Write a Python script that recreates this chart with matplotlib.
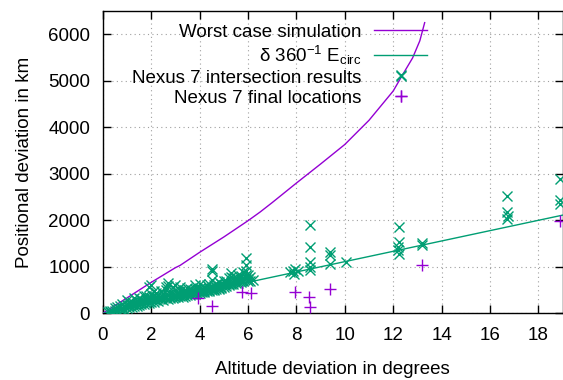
import matplotlib
matplotlib.use("Agg")
import matplotlib.pyplot as plt

plt.rcParams['font.family'] = ['Liberation Sans', 'DejaVu Sans']
plt.rcParams['mathtext.fontset'] = 'custom'
plt.rcParams['mathtext.rm'] = 'Liberation Sans'
plt.rcParams['mathtext.it'] = 'Liberation Sans:italic'

PURPLE = '#9400D3'
GREEN = '#009E73'

# Worst case simulation curve
worst_x = [0, 1, 2, 3, 3.2, 4, 5, 6, 6.5, 7, 8, 9, 10, 11, 12, 12.4, 12.8, 13.1, 13.3]
worst_y = [0, 330, 664, 980, 1031, 1310, 1640, 1990, 2177, 2380, 2800, 3210, 3630, 4150, 4780, 5140, 5490, 5860, 6250]

# delta / 360 * E_circ line
ecirc_km = 40000.0
line_x = [0, 19]

# Nexus 7 intersection results (dense cluster, then discrete groups)
inter_x = [0.2, 0.3, 0.3, 0.4, 0.5, 0.5, 0.6, 0.6, 0.7, 0.7,
           0.8, 0.8, 0.8, 0.9, 0.9, 1.0, 1.0, 1.0, 1.1, 1.1, 1.1,
           1.2, 1.2, 1.2, 1.3, 1.3, 1.3, 1.4, 1.4, 1.4, 1.5, 1.5, 1.5,
           1.6, 1.6, 1.6, 1.7, 1.7, 1.7, 1.8, 1.8, 1.8, 1.9, 1.9, 1.9, 1.9,
           2.0, 2.0, 2.0, 2.0, 2.1, 2.1, 2.1, 2.1, 2.2, 2.2, 2.2, 2.3, 2.3, 2.3,
           2.4, 2.4, 2.4, 2.5, 2.5, 2.5, 2.6, 2.6, 2.6, 2.6, 2.7, 2.7, 2.7, 2.7,
           2.8, 2.8, 2.8, 2.9, 2.9, 2.9, 3.0, 3.0, 3.0, 3.0, 3.1, 3.1, 3.1,
           3.2, 3.2, 3.2, 3.2, 3.3, 3.3, 3.3, 3.4, 3.4, 3.4, 3.5, 3.5, 3.5, 3.5,
           3.6, 3.6, 3.6, 3.7, 3.7, 3.7, 3.8, 3.8, 3.8, 3.8, 3.9, 3.9, 3.9,
           4.0, 4.0, 4.0, 4.0, 4.1, 4.1, 4.1, 4.2, 4.2, 4.2, 4.3, 4.3, 4.3,
           4.4, 4.4, 4.4, 4.4, 4.5, 4.5, 4.5, 4.5, 4.5, 4.6, 4.6, 4.6,
           4.7, 4.7, 4.7, 4.8, 4.8, 4.8, 4.8, 4.9, 4.9, 4.9, 5.0, 5.0, 5.0,
           5.1, 5.1, 5.1, 5.2, 5.2, 5.2, 5.3, 5.3, 5.3, 5.3, 5.4, 5.4, 5.4,
           5.5, 5.5, 5.5, 5.6, 5.6, 5.6, 5.6, 5.7, 5.7, 5.7, 5.8, 5.8, 5.8,
           5.9, 5.9, 5.9, 5.9, 5.9, 6.0, 6.0, 6.0, 6.1, 6.1, 6.2,
           7.75, 7.85, 7.9, 7.95, 8.05,
           8.57, 8.57, 8.55, 8.57, 8.55,
           9.39, 9.39, 9.39, 10.05,
           12.31, 12.24, 12.24, 12.2, 12.18, 12.22,
           13.18, 13.18,
           16.72, 16.72, 16.7, 16.73,
           18.9, 18.9, 18.9]
inter_y = [20, 40, 30, 50, 60, 110, 140, 70, 90, 160,
           110, 80, 200, 150, 100, 120, 290, 180, 170, 130, 240,
           140, 250, 190, 200, 330, 150, 160, 260, 210, 230, 180, 320,
           300, 200, 250, 200, 260, 380, 380, 230, 290, 270, 560, 220, 340,
           250, 420, 610, 320, 300, 480, 250, 380, 280, 350, 440, 320, 400, 270,
           300, 360, 480, 340, 420, 290, 380, 330, 500, 560, 650, 400, 310, 580,
           360, 430, 320, 380, 560, 330, 400, 610, 500, 340, 390, 440, 350,
           420, 480, 370, 560, 400, 450, 360, 430, 500, 380, 440, 480, 390, 550,
           420, 520, 400, 460, 500, 410, 450, 600, 420, 520, 470, 520, 430,
           480, 550, 440, 620, 490, 530, 450, 470, 560, 460, 520, 600, 480,
           510, 540, 490, 640, 960, 720, 550, 500, 910, 530, 600, 510,
           560, 620, 530, 550, 580, 520, 680, 570, 640, 550, 600, 560, 700,
           620, 700, 580, 640, 760, 600, 860, 650, 620, 780, 680, 620, 750,
           700, 760, 650, 690, 740, 660, 820, 720, 800, 680, 700, 880, 760,
           1190, 1040, 760, 900, 820, 740, 820, 690, 700, 780, 720,
           880, 920, 850, 960, 900,
           1907, 1428, 1106, 999, 928,
           1320, 1250, 1050, 1106,
           5128, 1856, 1534, 1427, 1356, 1286,
           1513, 1470,
           2520, 2177, 2035, 2100,
           2893, 2428, 2357]

# Nexus 7 final locations
final_x = [3.95, 4.5, 5.77, 6.13, 7.95, 8.54, 8.57, 9.39, 12.31, 13.18, 18.88]
final_y = [321, 156, 450, 428, 463, 343, 141, 514, 4663, 1035, 1978]

x_ticks = [0, 2, 4, 6, 8, 10, 12, 14, 16, 18]
y_ticks = [0, 1000, 2000, 3000, 4000, 5000, 6000]

fig = plt.figure(figsize=(5.63, 3.80), dpi=100)
ax = fig.add_axes([0.1824, 0.1755, 0.8170, 0.7955])

ax.plot(worst_x, worst_y, color=PURPLE, lw=1.0, label='Worst case simulation', zorder=3)
ax.plot(line_x, [v * ecirc_km / 360.0 for v in line_x], color=GREEN, lw=1.0,
        label=r'δ 360$^{\mathregular{-1}}$ E$_{\mathregular{circ}}$', zorder=3)
ax.plot(inter_x, inter_y, ls='none', marker='x', ms=7.5, mew=1.0, color=GREEN,
        label='Nexus 7 intersection results', zorder=4)
ax.plot(final_x, final_y, ls='none', marker='+', ms=8, mew=1.0, color=PURPLE,
        label='Nexus 7 final locations', zorder=5)

ax.set_xlim(0, 19)
ax.set_ylim(0, 6500)
ax.set_xticks(x_ticks)
ax.set_yticks(y_ticks)
ax.tick_params(direction='in', top=True, right=True, length=6, width=1.0,
               labelsize=13.5)
ax.tick_params(axis='x', pad=10)
ax.tick_params(axis='y', pad=9)
ax.grid(True, color='#a0a0a0', ls=(0, (1, 3)), lw=0.8)
for s in ax.spines.values():
    s.set_linewidth(1.0)

ax.set_xlabel('Altitude deviation in degrees', fontsize=13.5, labelpad=12)
ax.set_ylabel('Positional deviation in km', fontsize=13.5, labelpad=11)

leg = ax.legend(loc='upper right', bbox_to_anchor=(0.705, 0.958), frameon=False,
                markerfirst=False, numpoints=1, fontsize=13.5, handlelength=2.8,
                handletextpad=0.7, labelspacing=0.15, borderpad=0, borderaxespad=0)

fig.savefig('out.png', dpi=100)
